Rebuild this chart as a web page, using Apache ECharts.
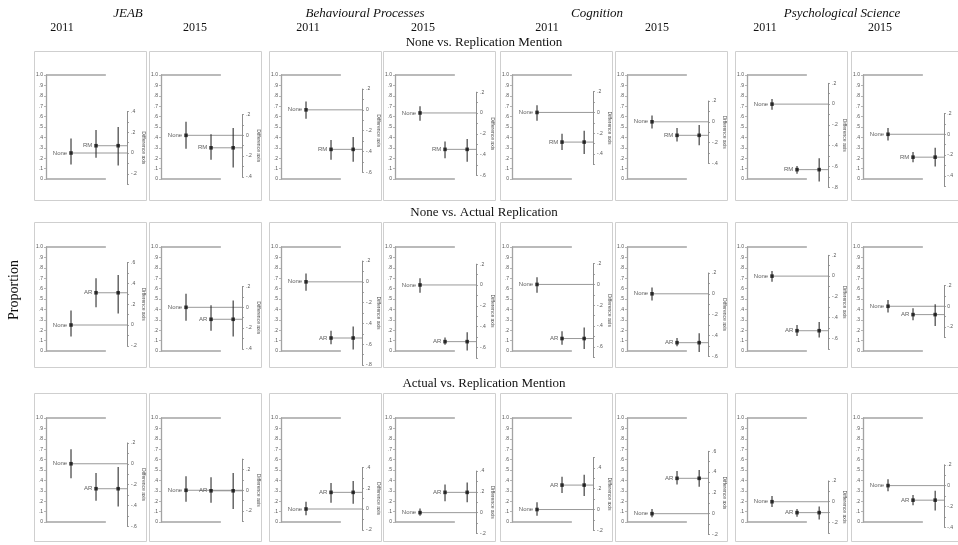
<!DOCTYPE html>
<html>
<head>
<meta charset="utf-8">
<script src="https://cdn.jsdelivr.net/npm/echarts@6/dist/echarts.min.js"></script>
<style>
  html, body { margin: 0; padding: 0; background: #fff; }
  #main { width: 958px; height: 545px; }
</style>
</head>
<body>
<div id="main"></div>
<script>
// Journals, years and comparisons shown in the grid of estimation plots
const journals = ['JEAB', 'Behavioural Processes', 'Cognition', 'Psychological Science'];
const years = ['2011', '2015'];
const comparisons = ['None vs. Replication Mention', 'None vs. Actual Replication', 'Actual vs. Replication Mention'];
const pairLabels = [['None', 'RM'], ['None', 'AR'], ['None', 'AR']];

// Proportions by journal-year, ordered:
// JEAB 2011, JEAB 2015, BP 2011, BP 2015, Cog 2011, Cog 2015, PS 2011, PS 2015
const noneMean = [0.25, 0.42, 0.665, 0.635, 0.64, 0.55, 0.72, 0.43];
const noneLow  = [0.14, 0.29, 0.58, 0.56, 0.56, 0.485, 0.665, 0.37];
const noneHigh = [0.39, 0.55, 0.745, 0.70, 0.71, 0.61, 0.77, 0.49];

const rmMean = [0.32, 0.30, 0.285, 0.285, 0.355, 0.42, 0.09, 0.21];
const rmLow  = [0.205, 0.185, 0.185, 0.20, 0.28, 0.36, 0.05, 0.16];
const rmHigh = [0.47, 0.43, 0.375, 0.36, 0.435, 0.49, 0.125, 0.26];

const arMean = [0.56, 0.305, 0.125, 0.09, 0.12, 0.08, 0.195, 0.35];
const arLow  = [0.42, 0.195, 0.065, 0.06, 0.06, 0.045, 0.145, 0.295];
const arHigh = [0.70, 0.44, 0.195, 0.13, 0.19, 0.125, 0.25, 0.41];

// Confidence limits of the differences (second group minus first group)
const diffLowNoneRM  = [-0.12, -0.31, -0.50, -0.47, -0.40, -0.225, -0.745, -0.31];
const diffHighNoneRM = [0.25, 0.07, -0.26, -0.25, -0.175, -0.03, -0.52, -0.13];
const diffLowNoneAR  = [0.11, -0.28, -0.65, -0.63, -0.62, -0.56, -0.59, -0.19];
const diffHighNoneAR = [0.48, 0.066, -0.43, -0.455, -0.415, -0.38, -0.44, 0.02];
const diffLowActRM   = [-0.41, -0.18, 0.05, 0.10, 0.13, 0.26, -0.17, -0.24];
const diffHighActRM  = [-0.03, 0.165, 0.27, 0.29, 0.335, 0.42, -0.045, -0.05];

// Extent of each floating difference axis
const diffAxisMinNoneRM = [-0.3, -0.4, -0.6, -0.6, -0.5, -0.4, -0.8, -0.5];
const diffAxisMaxNoneRM = [0.4, 0.2, 0.2, 0.2, 0.2, 0.2, 0.2, 0.2];
const diffAxisMinNoneAR = [-0.2, -0.4, -0.8, -0.7, -0.7, -0.6, -0.7, -0.3];
const diffAxisMaxNoneAR = [0.6, 0.2, 0.2, 0.2, 0.2, 0.2, 0.2, 0.2];
const diffAxisMinActRM  = [-0.6, -0.3, -0.2, -0.2, -0.2, -0.2, -0.3, -0.4];
const diffAxisMaxActRM  = [0.2, 0.3, 0.4, 0.4, 0.5, 0.6, 0.2, 0.2];

// Per-row groupings built from the arrays above
const rows = [
  { g1: [noneMean, noneLow, noneHigh], g2: [rmMean, rmLow, rmHigh], dLow: diffLowNoneRM, dHigh: diffHighNoneRM, aMin: diffAxisMinNoneRM, aMax: diffAxisMaxNoneRM },
  { g1: [noneMean, noneLow, noneHigh], g2: [arMean, arLow, arHigh], dLow: diffLowNoneAR, dHigh: diffHighNoneAR, aMin: diffAxisMinNoneAR, aMax: diffAxisMaxNoneAR },
  { g1: [arMean, arLow, arHigh], g2: [rmMean, rmLow, rmHigh], dLow: diffLowActRM, dHigh: diffHighActRM, aMin: diffAxisMinActRM, aMax: diffAxisMaxActRM }
];

// Layout
const axisX = [46, 161, 281, 395, 512, 627, 747, 863];
const rowTop = [75, 247, 418];
const plotH = 104;
const plotW = 82;
const boxTop = [51, 222, 393];
const boxH = [149, 145, 148];
const boxW = 112;
const X_G1 = 30.5, X_G2 = 61, X_DIFF = 88, FRAME_END = 73;
const journalX = [128, 365, 597, 842];
const yearX = [62, 195, 308, 423, 547, 657, 765, 880];
const titleY = [43, 213, 384];

const SANS = 'Liberation Sans, Arial, sans-serif';
const SERIF = 'Liberation Serif, Times New Roman, serif';

function propLabel(v) {
  const k = Math.round(v * 10);
  if (k === 10) return '1.0';
  if (k === 0) return '0';
  return '.' + k;
}
function diffLabel(v) {
  const k = Math.round(v * 10);
  if (k % 2 !== 0) return '';
  if (k === 0) return '0';
  return (k < 0 ? '-.' : '.') + Math.abs(k);
}

function hLine(params, api) {
  const y = api.value(1);
  const a = api.coord([api.value(0), y]);
  const b = api.coord([api.value(2), y]);
  return { type: 'line', shape: { x1: a[0], y1: a[1], x2: b[0], y2: b[1] },
           style: { stroke: api.value(3) === 1 ? '#a3a3a3' : '#8d8d8d', lineWidth: api.value(3) === 1 ? 1.4 : 0.9 } };
}
function vBar(params, api) {
  const x = api.value(0);
  const a = api.coord([x, api.value(1)]);
  const b = api.coord([x, api.value(2)]);
  return { type: 'line', shape: { x1: a[0], y1: a[1], x2: b[0], y2: b[1] },
           style: { stroke: '#2e2e2e', lineWidth: 1.1 } };
}

const grids = [], xAxes = [], yAxes = [], series = [], graphics = [];

rows.forEach((row, r) => {
  for (let c = 0; c < 8; c++) {
    const g1m = row.g1[0][c], g1l = row.g1[1][c], g1h = row.g1[2][c];
    const g2m = row.g2[0][c], g2l = row.g2[1][c], g2h = row.g2[2][c];
    const dl = row.dLow[c], dh = row.dHigh[c];
    const aMin = row.aMin[c], aMax = row.aMax[c];

    // panel frame
    graphics.push({ type: 'rect', silent: true,
      shape: { x: axisX[c] - 12 + 0.5, y: boxTop[r] + 0.5, width: boxW, height: boxH[r] },
      style: { fill: 'none', stroke: '#cfcfcf', lineWidth: 1 } });

    // main proportion plot
    const gi = grids.length;
    grids.push({ left: axisX[c], top: rowTop[r], width: plotW, height: plotH });
    xAxes.push({ gridIndex: gi, type: 'value', min: 0, max: 100, show: false });
    yAxes.push({ gridIndex: gi, type: 'value', min: 0, max: 1, interval: 0.1,
      axisLine: { show: true, lineStyle: { color: '#a3a3a3', width: 1.3 } },
      axisTick: { show: true, length: 2, lineStyle: { color: '#a3a3a3', width: 0.8 } },
      axisLabel: { fontSize: 5, color: '#555', margin: 3, fontFamily: SANS, formatter: propLabel },
      splitLine: { show: false } });

    // top and bottom frame lines, then reference lines out to the difference axis
    series.push({ type: 'custom', xAxisIndex: gi, yAxisIndex: gi, clip: false, silent: true,
      renderItem: hLine, encode: { x: [0, 2], y: 1 },
      data: [[0, 1, FRAME_END, 1], [0, 0, FRAME_END, 1], [X_G1, g1m, 100, 0], [X_G2, g2m, 100, 0]] });

    // confidence intervals
    series.push({ type: 'custom', xAxisIndex: gi, yAxisIndex: gi, clip: false, silent: true,
      renderItem: vBar, encode: { x: 0, y: [1, 2] },
      data: [[X_G1, g1l, g1h], [X_G2, g2l, g2h], [X_DIFF, g1m + dl, g1m + dh]] });

    // means
    series.push({ type: 'scatter', xAxisIndex: gi, yAxisIndex: gi, clip: false, silent: true,
      symbol: 'rect', symbolSize: 3.6, itemStyle: { color: '#111' },
      label: { show: true, position: 'left', distance: 2, fontSize: 6, color: '#333', fontFamily: SANS,
               formatter: p => p.name },
      data: [
        { name: pairLabels[r][0], value: [X_G1, g1m] },
        { name: pairLabels[r][1], value: [X_G2, g2m] },
        { name: '', value: [X_DIFF, g2m], label: { show: false } }
      ] });

    // floating difference axis, zero aligned with the first group's mean
    const dg = grids.length;
    grids.push({ left: axisX[c] + plotW - 1, width: 1,
      top: rowTop[r] + (1 - g1m - aMax) * plotH, height: (aMax - aMin) * plotH });
    xAxes.push({ gridIndex: dg, type: 'value', min: 0, max: 1, show: false });
    yAxes.push({ gridIndex: dg, type: 'value', position: 'right', min: aMin, max: aMax, interval: 0.1,
      name: 'Difference axis', nameLocation: 'middle', nameRotate: -90, nameGap: 10,
      nameTextStyle: { fontSize: 5, color: '#555', fontFamily: SANS },
      axisLine: { show: true, lineStyle: { color: '#8d8d8d', width: 1 } },
      axisTick: { show: true, length: 2, lineStyle: { color: '#8d8d8d', width: 0.8 } },
      axisLabel: { fontSize: 5, color: '#555', margin: 3, fontFamily: SANS, formatter: diffLabel },
      splitLine: { show: false } });
  }
});

// headings
journals.forEach((j, i) => graphics.push({ type: 'text', x: journalX[i], y: 14, silent: true,
  style: { text: j, fill: '#111', font: 'italic 13px ' + SERIF, textAlign: 'center', textVerticalAlign: 'middle' } }));
for (let c = 0; c < 8; c++) graphics.push({ type: 'text', x: yearX[c], y: 28, silent: true,
  style: { text: years[c % 2], fill: '#111', font: '12px ' + SERIF, textAlign: 'center', textVerticalAlign: 'middle' } });
comparisons.forEach((t, r) => graphics.push({ type: 'text', x: 484, y: titleY[r], silent: true,
  style: { text: t, fill: '#111', font: '13px ' + SERIF, textAlign: 'center', textVerticalAlign: 'middle' } }));
graphics.push({ type: 'text', x: 14, y: 290, rotation: Math.PI / 2, silent: true,
  style: { text: 'Proportion', fill: '#111', font: '14px ' + SERIF, textAlign: 'center', textVerticalAlign: 'middle' } });

const chart = echarts.init(document.getElementById('main'), null, { renderer: 'canvas' });
chart.setOption({
  animation: false,
  backgroundColor: '#fff',
  grid: grids,
  xAxis: xAxes,
  yAxis: yAxes,
  series: series,
  graphic: { elements: graphics }
});
</script>
</body>
</html>
